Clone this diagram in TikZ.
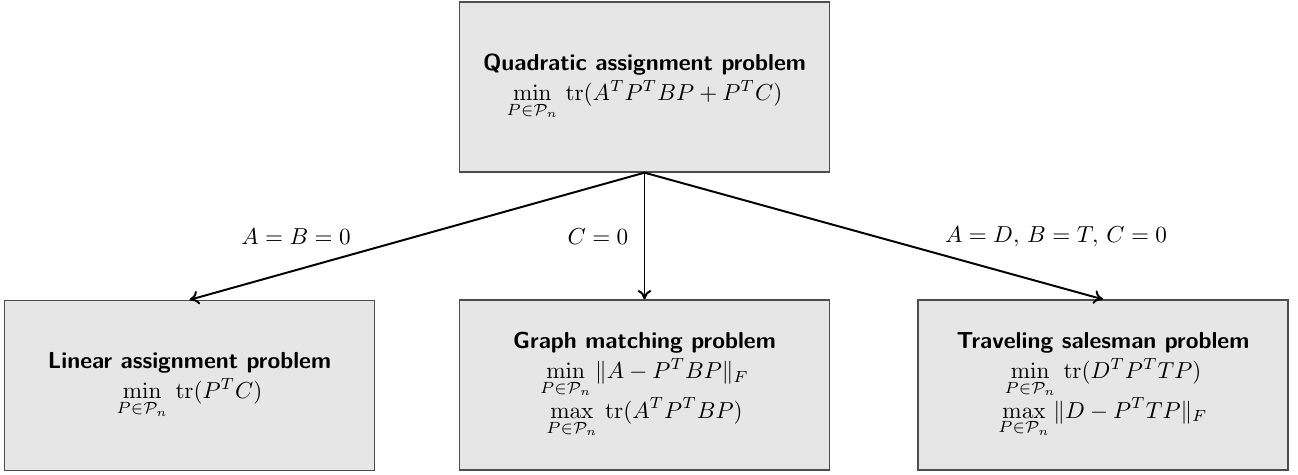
\documentclass[tikz,border=0pt]{standalone}
\usepackage{amsmath}
\usetikzlibrary{arrows.meta}
\definecolor{boxfill}{HTML}{E6E6E6}
\definecolor{boxline}{HTML}{4D4D4D}
\tikzset{
  probbox/.style={draw=boxline, fill=boxfill, line width=0.6pt, minimum width=159.8pt, minimum height=73.4pt, inner sep=0pt, align=center, font=\normalsize},
  conn/.style={-{To[length=4pt,width=6pt]}, line width=0.85pt, black},
  condlabel/.style={inner sep=1pt, font=\normalsize}
}
\newcommand{\ttl}[1]{{\sffamily\bfseries #1}}
\begin{document}
\begin{tikzpicture}[x=0.432pt,y=-0.432pt]
\useasboundingbox (0,0) rectangle (1298,474);
\node[probbox] (qap) at (644.5,87) {\ttl{Quadratic assignment problem}\\[1pt] $\displaystyle\min_{P\in\mathcal{P}_n}\, \operatorname{tr}(A^TP^TBP+P^TC)$};
\node[probbox] (lap) at (189.5,385.5) {\ttl{Linear assignment problem}\\[1pt] $\displaystyle\min_{P\in\mathcal{P}_n}\, \operatorname{tr}(P^TC)$};
\node[probbox] (gmp) at (644.5,385) {\ttl{Graph matching problem}\\[1pt] $\displaystyle\min_{P\in\mathcal{P}_n} \|A-P^TBP\|_F$\\[-1.3pt] $\displaystyle\max_{P\in\mathcal{P}_n}\, \operatorname{tr}(A^TP^TBP)$};
\node[probbox] (tsp) at (1103,385) {\ttl{Traveling salesman problem}\\[1pt] $\displaystyle\min_{P\in\mathcal{P}_n}\, \operatorname{tr}(D^TP^TTP)$\\[-1.3pt] $\displaystyle\max_{P\in\mathcal{P}_n} \|D-P^TTP\|_F$};
\draw[conn] (qap.south) -- (lap.north);
\draw[conn] (qap.south) -- (gmp.north);
\draw[conn] (qap.south) -- (tsp.north);
\node[condlabel] (l1) at (296,237) {$A=B=0$};
\node[condlabel] (l2) at (598,237) {$C=0$};
\node[condlabel] (l3) at (1056,237) {$A=D,\,B=T,\,C=0$};
\end{tikzpicture}
\end{document}
